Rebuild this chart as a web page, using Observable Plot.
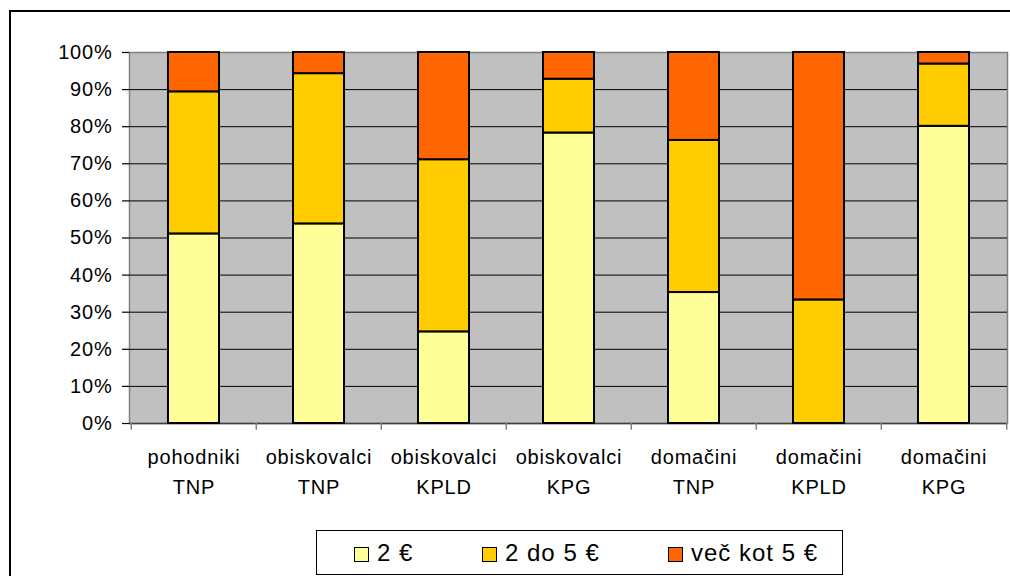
<!DOCTYPE html>
<html>
<head>
<meta charset="utf-8">
<script src="https://cdn.jsdelivr.net/npm/d3@7"></script>
<script src="https://cdn.jsdelivr.net/npm/@observablehq/plot@0.6"></script>
<style>
  html, body { margin: 0; padding: 0; background: #fff; overflow: hidden; }
  #wrap { position: relative; width: 1010px; height: 576px; overflow: hidden; font-family: "Liberation Sans", Arial, sans-serif; }
  #border { position: absolute; left: 9px; top: 10px; width: 1100px; height: 700px; border: 2px solid #000; box-sizing: border-box; pointer-events: none; }
  #chart { position: absolute; left: 0; top: 0; }
  #legend { position: absolute; left: 316px; top: 530px; width: 527px; height: 45px; border: 1px solid #000; box-sizing: border-box; background: #fff; }
  .item { position: absolute; top: 0; height: 43px; display: flex; align-items: center; font-size: 24px; letter-spacing: 1px; color: #000; white-space: nowrap; }
  .sw { width: 13px; height: 13px; border: 1px solid #000; margin-right: 8px; margin-top: 3px; }
</style>
</head>
<body>
<div id="wrap">
  <div id="chart"></div>
  <div id="legend"></div>
  <div id="border"></div>
</div>
<script>
// ---- data ----
const groups = ["pohodniki", "obiskovalci", "obiskovalci", "obiskovalci", "domačini", "domačini", "domačini"];
const sites  = ["TNP", "TNP", "KPLD", "KPG", "TNP", "KPLD", "KPG"];
const series = ["2 €", "2 do 5 €", "več kot 5 €"];
const colors = ["#FFFF99", "#FFCC00", "#FF6600"];
const share2     = [51.1, 53.8, 24.7, 78.3, 35.3, 0.0, 80.1];
const share2to5  = [38.3, 40.5, 46.4, 14.5, 41.0, 33.3, 16.8];
const shareOver5 = [10.6, 5.7, 28.9, 7.2, 23.7, 66.7, 3.1];
const yTicks = [0, 10, 20, 30, 40, 50, 60, 70, 80, 90, 100];
const legendOffsets = [37, 165, 351];

// ---- build table ----
const categories = groups.map((g, i) => g + "\n" + sites[i]);
const seriesValues = [share2, share2to5, shareOver5];
const rows = [];
categories.forEach((c, i) => {
  series.forEach((s, k) => {
    const v = seriesValues[k][i];
    if (v > 0) rows.push({cat: c, series: s, value: v});
  });
});

const W = 1010, H = 576;
const mL = 129, mR = 3, mT = 52, mB = 153;
const step = (W - mL - mR) / categories.length;

const chart = Plot.plot({
  width: W,
  height: H,
  marginLeft: mL,
  marginRight: mR,
  marginTop: mT,
  marginBottom: mB,
  style: {fontFamily: "'Liberation Sans', Arial, sans-serif", color: "#000", background: "transparent", letterSpacing: "0.8px"},
  x: {domain: categories, paddingInner: 0.593, paddingOuter: 0.2965, axis: null, label: null},
  y: {domain: [0, 100], axis: null, label: null},
  color: {domain: series, range: colors},
  marks: [
    Plot.frame({fill: "#C0C0C0", stroke: "#808080", strokeWidth: 1.5}),
    Plot.ruleY(yTicks.filter(t => t > 0 && t < 100), {stroke: "#000", strokeWidth: 1}),
    Plot.ruleY([0], {stroke: "#404040", strokeWidth: 1.5}),
    Plot.ruleX(categories, {x: d => d, dx: -step / 2, y1: 0, y2: -1.8, stroke: "#808080", strokeWidth: 1.5}),
    Plot.ruleX(categories.slice(-1), {x: d => d, dx: step / 2, y1: 0, y2: -1.8, stroke: "#808080", strokeWidth: 1.5}),
    Plot.barY(rows, {x: "cat", y: "value", fill: "series", stroke: "#000", strokeWidth: 2}),
    Plot.axisY({ticks: yTicks, tickFormat: d => d + "%", tickSize: 7, tickPadding: 10, fontSize: 20, stroke: "#000", strokeWidth: 1.2, label: null}),
    Plot.axisX({tickSize: 0, tickPadding: 20, fontSize: 20, lineHeight: 1.47, tickFormat: d => d, label: null})
  ]
});
document.getElementById("chart").appendChild(chart);

// ---- legend ----
const legend = document.getElementById("legend");
series.forEach((s, k) => {
  const item = document.createElement("div");
  item.className = "item";
  item.style.left = legendOffsets[k] + "px";
  const sw = document.createElement("div");
  sw.className = "sw";
  sw.style.background = colors[k];
  const t = document.createElement("span");
  t.textContent = s;
  item.appendChild(sw);
  item.appendChild(t);
  legend.appendChild(item);
});
</script>
</body>
</html>
